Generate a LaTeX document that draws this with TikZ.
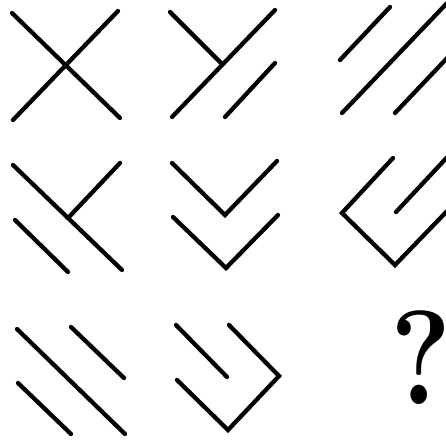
\documentclass[tikz,border=0pt]{standalone}
\begin{document}
\begin{tikzpicture}[x=1pt,y=-1pt,
  stroke/.style={line width=4.3pt,line cap=round,line join=miter}]
\useasboundingbox (0,0) rectangle (446,439);
\clip (0,0) rectangle (446,439);
% cell 1
\draw[stroke] (12,13) -- (120,118);
\draw[stroke] (118,11) -- (13,120);
% cell 2
\draw[stroke] (170,12) -- (222,64);
\draw[stroke] (275,10) -- (172,117);
\draw[stroke] (275,63) -- (225,117);
% cell 3
\draw[stroke] (390,7) -- (340,60);
\draw[stroke] (450,0) -- (342,113);
\draw[stroke] (450,55) -- (395,113);
% cell 4
\draw[stroke] (13,165) -- (122,270);
\draw[stroke] (120,163) -- (68,218);
\draw[stroke] (15,220) -- (68,272);
% cell 5
\draw[stroke] (172,163) -- (225,215) -- (277,161);
\draw[stroke] (173,217) -- (226,268) -- (278,215);
% cell 6
\draw[stroke] (393,158) -- (342,213) -- (395,265) -- (452,206);
\draw[stroke] (396,212) -- (452,152);
% cell 8
\draw[stroke] (176,325) -- (227,377);
\draw[stroke] (229,325) -- (279,376) -- (228,430) -- (177,380);
% cell 7
\draw[stroke] (17,329) -- (125,434);
\draw[stroke] (71,327) -- (124,378);
\draw[stroke] (18,383) -- (71,434);
% cell 9
\node[inner sep=0pt,anchor=base,xscale=0.86] (q) at (421,404) {\fontsize{134}{134}\selectfont\bfseries ?};
\end{tikzpicture}
\end{document}
